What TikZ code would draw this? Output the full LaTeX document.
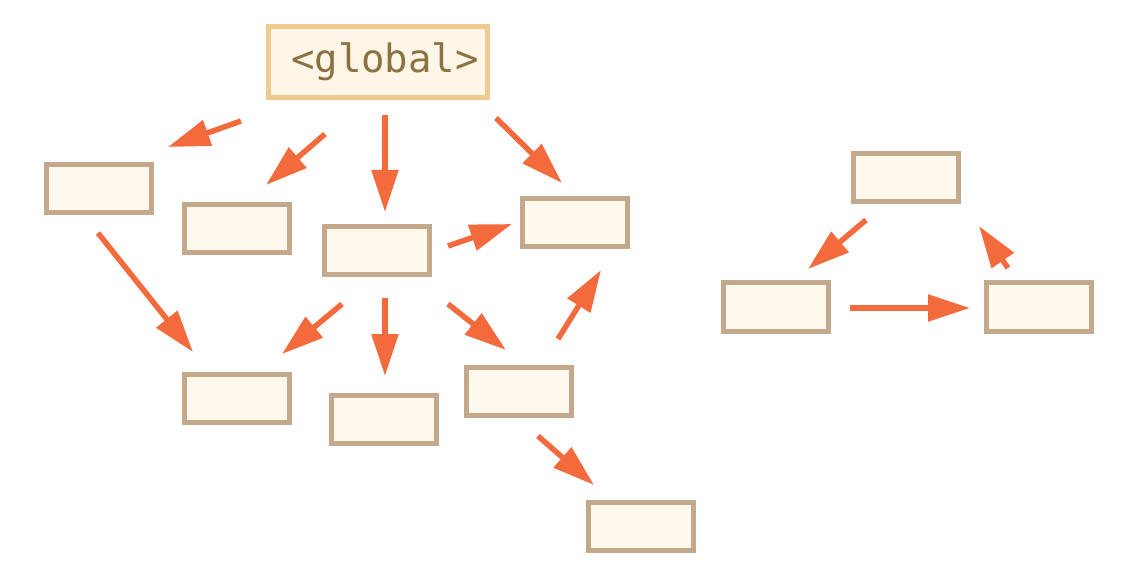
\documentclass[tikz,border=0pt]{standalone}
\usepackage{fontspec}
\newfontfamily\codefont{DejaVu Sans Mono}
\usetikzlibrary{arrows.meta}
\definecolor{boxline}{RGB}{196,168,140}
\definecolor{boxfill}{RGB}{255,248,236}
\definecolor{globline}{RGB}{240,202,142}
\definecolor{globfill}{RGB}{255,246,232}
\definecolor{globtext}{RGB}{140,114,66}
\definecolor{arrowcol}{RGB}{243,107,60}
\tikzset{
  envbox/.style={draw=boxline, fill=boxfill, line width=5pt,
    minimum width=105pt, minimum height=48pt, inner sep=0pt},
  globbox/.style={draw=globline, fill=globfill, line width=5pt,
    minimum width=219pt, minimum height=71pt, inner sep=0pt,
    text=globtext, font=\codefont\fontsize{39}{40}\selectfont},
  link/.style={draw=arrowcol, line width=5.5pt,
    -{Triangle[length=42pt,width=26pt]}}
}
\begin{document}
\begin{tikzpicture}[x=1pt,y=-1pt]
\useasboundingbox (0,0) rectangle (1124,577);
% global environment
\node[globbox] (glob) at (378,62) {\hspace*{14pt}<global>};
% nested environments
\node[envbox] (a) at (99,188.5) {};
\node[envbox] (b) at (237,228.5) {};
\node[envbox] (c) at (377,250.5) {};
\node[envbox] (d) at (575,222.5) {};
\node[envbox] (e) at (237,398.5) {};
\node[envbox] (f) at (384,419.5) {};
\node[envbox] (g) at (519,391.5) {};
\node[envbox] (h) at (641,526.5) {};
% separate cycle
\node[envbox] (i) at (906,177.5) {};
\node[envbox] (j) at (776,307) {};
\node[envbox] (k) at (1039,307) {};
% arrow ends
\coordinate (s1) at (241,121);  \coordinate (t1) at (168,147);
\coordinate (s2) at (325,134);  \coordinate (t2) at (266,185);
\coordinate (s3) at (385,115);  \coordinate (t3) at (385,212);
\coordinate (s4) at (496,118);  \coordinate (t4) at (562,183);
\coordinate (s5) at (98,233);   \coordinate (t5) at (193,352);
\coordinate (s6) at (448,246);  \coordinate (t6) at (512,224);
\coordinate (s7) at (342,304);  \coordinate (t7) at (282,354);
\coordinate (s8) at (385,298);  \coordinate (t8) at (385,376);
\coordinate (s9) at (448,304);  \coordinate (t9) at (506,350);
\coordinate (s10) at (558,339); \coordinate (t10) at (601,270);
\coordinate (s11) at (538,436); \coordinate (t11) at (594,485);
\coordinate (s12) at (866,220); \coordinate (t12) at (808,269);
\coordinate (s13) at (850,308); \coordinate (t13) at (970,308);
\coordinate (s14) at (1008,268);\coordinate (t14) at (979,226);
\foreach \n in {1,...,14} \draw[link] (s\n) -- (t\n);
\end{tikzpicture}
\end{document}
